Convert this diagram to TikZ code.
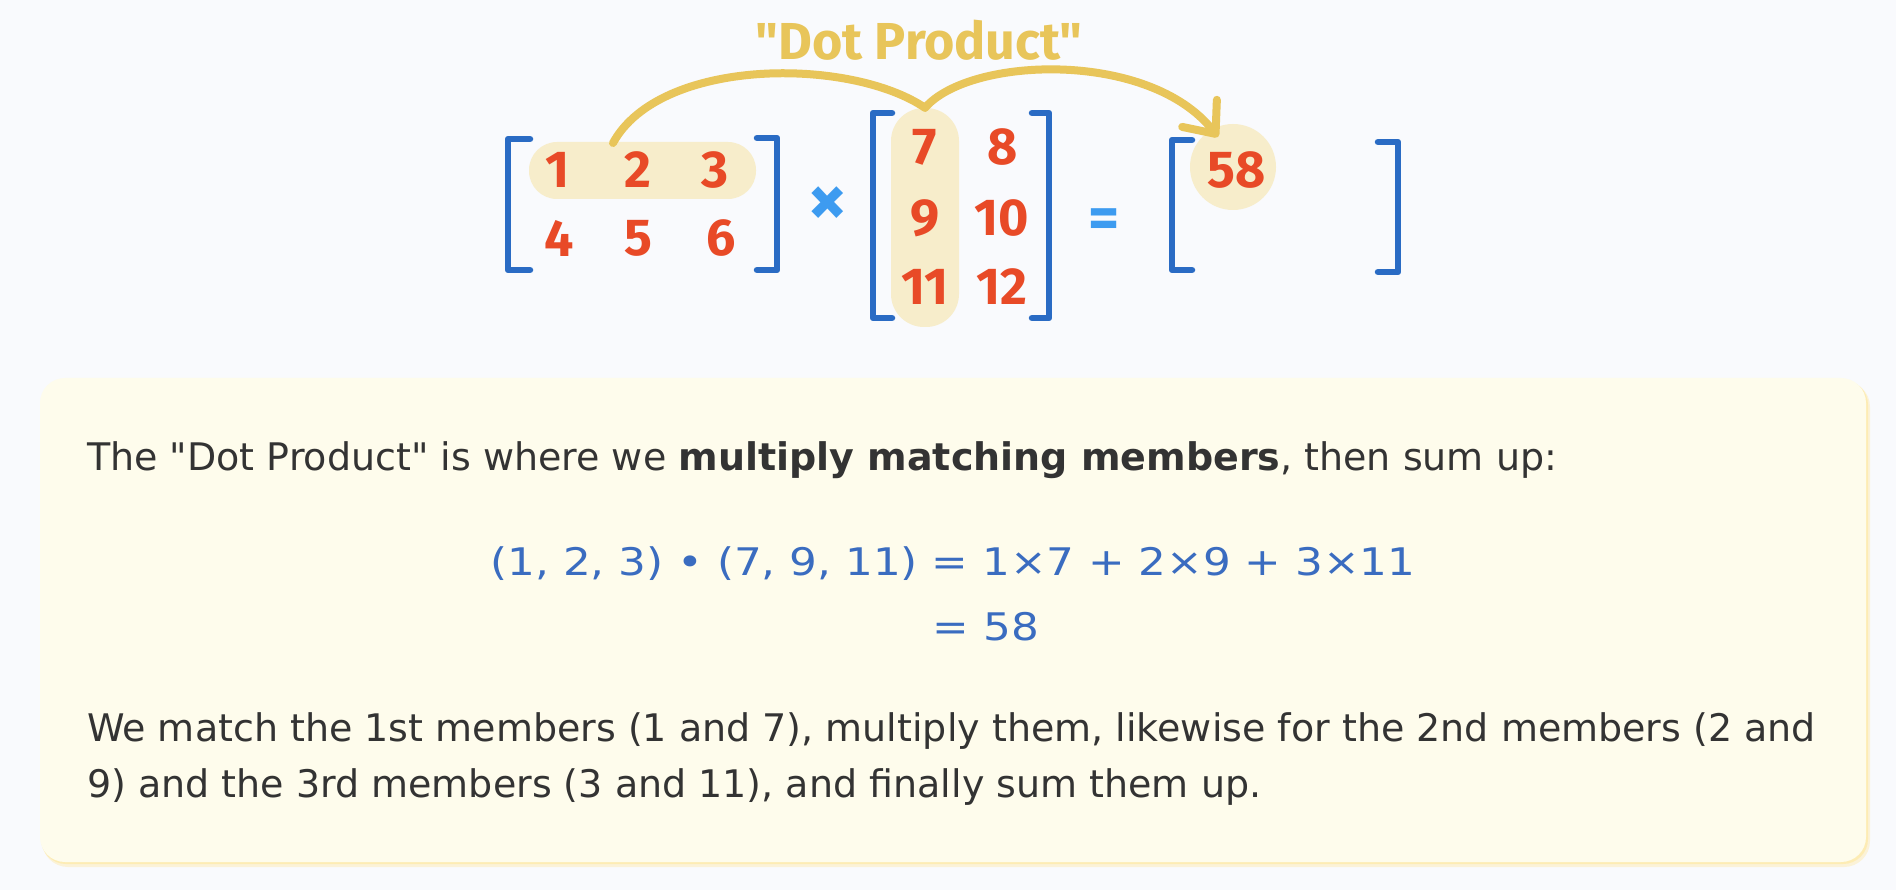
\documentclass[tikz,border=0pt]{standalone}
\usepackage{fontspec}
\usepackage{graphicx}
\setmainfont{DejaVu Sans}[Ligatures=TeXOff]
\newfontfamily\handfont{Fira Sans}[Ligatures=TeXOff]
\usepackage{tikz}
\usetikzlibrary{arrows.meta, positioning, calc}
\definecolor{mxblue}{RGB}{42,107,196}
\definecolor{mxred}{RGB}{232,74,39}
\definecolor{mxhl}{RGB}{247,237,203}
\definecolor{mxgold}{RGB}{232,197,90}
\definecolor{mxsky}{RGB}{61,155,240}
\definecolor{mxtext}{RGB}{51,51,51}
\definecolor{mxformula}{RGB}{58,108,192}
\definecolor{boxfill}{RGB}{254,252,236}
\definecolor{boxglow}{RGB}{253,236,180}
\definecolor{pagebg}{RGB}{249,250,253}
\tikzset{
  entry/.style    = {font=\handfont\bfseries\fontsize{52}{52}\selectfont, text=mxred,
                     inner sep=0pt},
  oper/.style     = {font=\handfont\bfseries\fontsize{60}{60}\selectfont, text=mxsky,
                     inner sep=0pt},
  bracket/.style  = {draw=mxblue, line width=6.5pt, line cap=round, line join=round},
  hilite/.style   = {rectangle, fill=mxhl, draw=none, inner sep=0pt},
  dotarc/.style   = {draw=mxgold, line width=8pt, line cap=round},
  arclab/.style   = {font=\handfont\bfseries\fontsize{52}{52}\selectfont, text=mxgold,
                     inner sep=0pt, anchor=base},
  bodytext/.style = {font=\fontsize{38}{46}\selectfont, text=mxtext, inner sep=0pt,
                     anchor=base west},
  formula/.style  = {font=\fontsize{38}{46}\selectfont, text=mxformula, inner sep=0pt,
                     anchor=base},
}
\newcommand{\wideform}[1]{\scalebox{1.15}[1]{#1}}

\begin{document}
\begin{tikzpicture}[x=1pt, y=-1pt]
  % page and note box
  \fill[pagebg] (0,0) rectangle (1896,890);
  \fill[boxglow, opacity=0.5, rounded corners=26pt] (42,381) rectangle (1870,867);
  \fill[boxglow, rounded corners=25pt] (41,380) rectangle (1868,864);
  \fill[boxfill, rounded corners=25pt] (40,378) rectangle (1866,862);

  % highlights
  \node[hilite, minimum width=227pt, minimum height=57pt, rounded corners=28pt] (rowpill) at (642.5,170.5) {};
  \node[hilite, minimum width=68pt, minimum height=219pt, rounded corners=33pt] (colpill) at (925,217.5) {};
  \node[circle, fill=mxhl, minimum size=86pt, inner sep=0pt] (res) at (1233,167) {};

  % first matrix
  \node[entry] (a11) at (558,170) {1};
  \node[entry] (a12) at (638,170) {2};
  \node[entry] (a13) at (715,170) {3};
  \node[entry] (a21) at (559,238) {4};
  \node[entry] (a22) at (638,238) {5};
  \node[entry] (a23) at (721,238) {6};
  \draw[bracket] (530,139) -- (508,139) -- (508,270) -- (530,270);
  \draw[bracket] (757,138) -- (777,138) -- (777,270) -- (757,270);

  \node[oper, font=\handfont\bfseries\fontsize{78}{78}\selectfont] (times) at (828,207) {×};

  % second matrix
  \node[entry] (b11) at (925,147) {7};
  \node[entry] (b12) at (1003,147) {8};
  \node[entry] (b21) at (925,218) {9};
  \node[entry] (b22) at (1002,218) {10};
  \node[entry] (b31) at (925,287) {11};
  \node[entry] (b32) at (1002,287) {12};
  \draw[bracket] (892,113) -- (873,113) -- (873,318) -- (892,318);
  \draw[bracket] (1032,113) -- (1049,113) -- (1049,318) -- (1032,318);

  \node[oper] (equals) at (1104,224) {=};

  % result matrix
  \node[entry] (c11) at (1237,170) {58};
  \draw[bracket] (1192,140) -- (1172,140) -- (1172,270) -- (1192,270);
  \draw[bracket] (1378,142) -- (1398,142) -- (1398,272) -- (1378,272);

  % dot product arcs
  \node[arclab] (dplab) at (919,60) {"Dot Product"};
  \coordinate (arcstart) at (613,143);
  \coordinate (restip) at ($(res)+(-15,-30)$);
  \draw[dotarc] (arcstart) .. controls (660,57) and (850,57) .. (colpill.north);
  \draw[dotarc, -{Straight Barb[length=26pt, width=44pt, round]}]
    (colpill.north) .. controls (970,56) and (1150,50) .. (restip);

  % explanation
  \node[bodytext] (line1) at (87,470) {The "Dot Product" is where we \textbf{multiply matching members}, then sum up:};
  \node[formula] (eq1) at (953,575) {\wideform{(1, 2, 3) • (7, 9, 11) = 1×7 + 2×9 + 3×11}};
  \node[formula] (eq2) at (986,640) {\wideform{= 58}};
  \node[bodytext] (line3) at (87,741) {We match the 1st members (1 and 7), multiply them, likewise for the 2nd members (2 and};
  \node[bodytext] (line4) at (87,797) {9) and the 3rd members (3 and 11), and finally sum them up.};
\end{tikzpicture}
\end{document}
